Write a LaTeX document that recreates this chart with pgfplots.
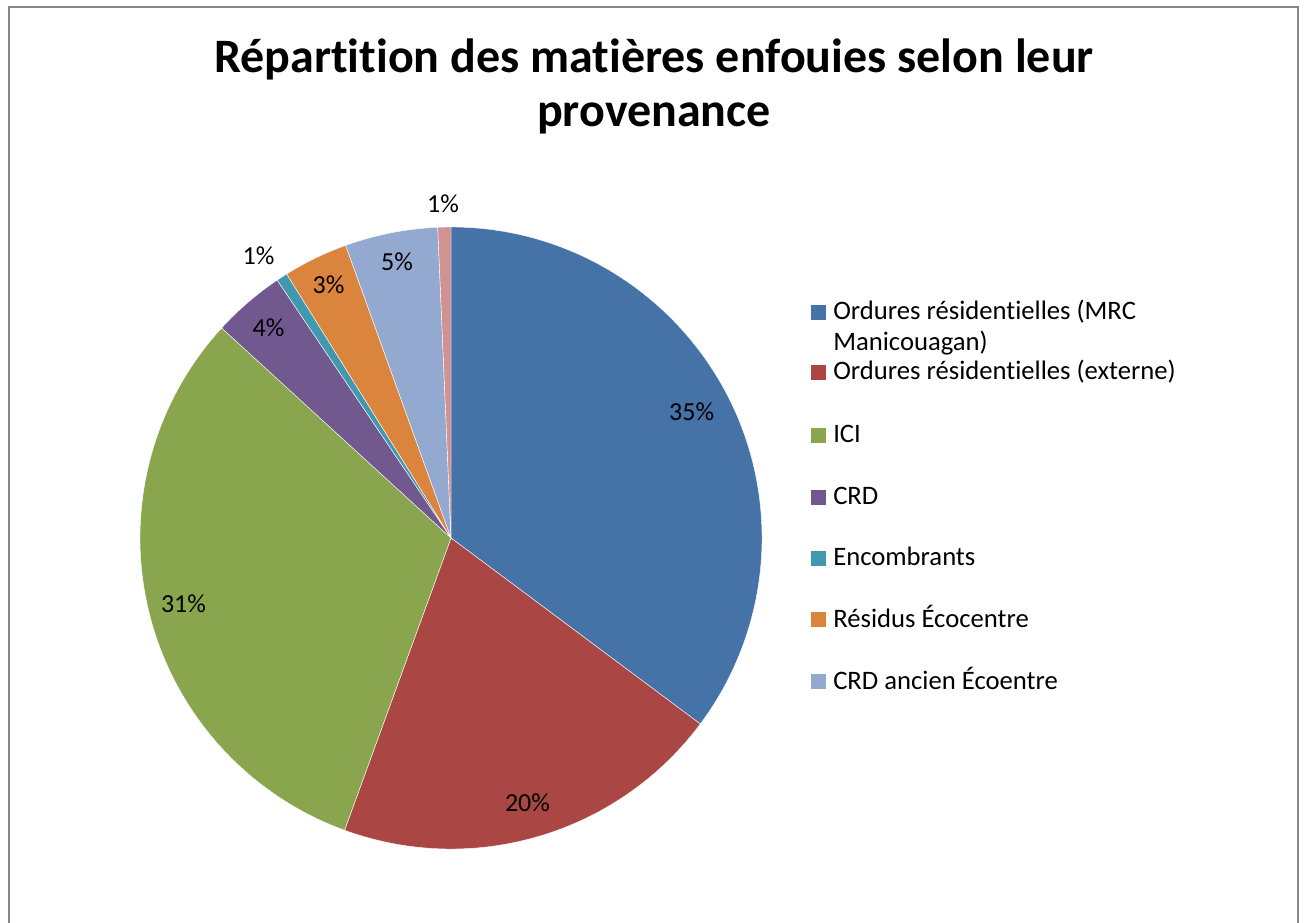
\documentclass[border=0pt]{standalone}
\usepackage{fontspec}
\setmainfont{Carlito}[Ligatures=NoCommon]
\usepackage{pgfplots}
\usepackage{pgfplotstable}
\pgfplotsset{compat=1.18}

\definecolor{c0}{HTML}{4572A7}
\definecolor{c1}{HTML}{AA4643}
\definecolor{c2}{HTML}{89A54E}
\definecolor{c3}{HTML}{71588F}
\definecolor{c4}{HTML}{4198AF}
\definecolor{c5}{HTML}{DB843D}
\definecolor{c6}{HTML}{93A9CF}
\definecolor{c7}{HTML}{D19392}
\definecolor{frame}{HTML}{868686}

% share (%) and label position (px, y from bottom)
\pgfplotstableread{
value lx    ly
35.2  691.7 501
20.36 527.5 111
31.24 183.5 310
3.76  268.5 585.3
0.58  258.5 657
3.36  328.5 628
4.82  397   651.3
0.68  443   709.3
}\piedata

\begin{document}
\begin{tikzpicture}
% cumulative angles, clockwise from 12 o'clock
\gdef\cum{0}%
\pgfplotstableforeachcolumnelement{value}\of\piedata\as\v{%
  \pgfmathsetmacro\a{90-3.6*\cum}%
  \pgfmathsetmacro\cumnew{\cum+\v}%
  \pgfmathsetmacro\b{90-3.6*\cumnew}%
  \expandafter\xdef\csname sa\pgfplotstablerow\endcsname{\a}%
  \expandafter\xdef\csname sb\pgfplotstablerow\endcsname{\b}%
  \pgfmathtruncatemacro\pct{round(\v)}%
  \expandafter\xdef\csname pl\pgfplotstablerow\endcsname{\pct}%
  \xdef\cum{\cumnew}%
}%
\pgfplotstableforeachcolumnelement{lx}\of\piedata\as\v{%
  \expandafter\xdef\csname lx\pgfplotstablerow\endcsname{\v}}%
\pgfplotstableforeachcolumnelement{ly}\of\piedata\as\v{%
  \expandafter\xdef\csname ly\pgfplotstablerow\endcsname{\v}}%
\begin{axis}[
    scale only axis, width=979.5pt, height=691.5pt,
    xmin=0, xmax=1306, ymin=0, ymax=922,
    hide axis, clip=false,
]
\pgfplotsinvokeforeach{0,...,7}{
  \fill[c#1, draw=white, line width=0.3pt] (axis cs:451,384) -- ++(\csname sa#1\endcsname:233.25pt)
    arc[start angle=\csname sa#1\endcsname, end angle=\csname sb#1\endcsname, radius=233.25pt] -- cycle;
}
\pgfplotsinvokeforeach{0,...,7}{
  \node[anchor=base, inner sep=0pt, font=\fontsize{19.5}{23}\selectfont]
    at (axis cs:\csname lx#1\endcsname,\csname ly#1\endcsname) {\csname pl#1\endcsname\%};
}
% title
\node[anchor=base, inner sep=0pt, font=\fontsize{36}{43}\selectfont\bfseries]
  at (axis cs:654,849) {Répartition des matières enfouies selon leur};
\node[anchor=base, inner sep=0pt, font=\fontsize{36}{43}\selectfont\bfseries]
  at (axis cs:654,795) {provenance};
% legend
\fill[c0] (axis cs:811,602) rectangle (axis cs:826,617);
\fill[c1] (axis cs:811,542) rectangle (axis cs:826,557);
\fill[c2] (axis cs:811,479) rectangle (axis cs:826,494);
\fill[c3] (axis cs:811,417) rectangle (axis cs:826,432);
\fill[c4] (axis cs:811,356) rectangle (axis cs:826,371);
\fill[c5] (axis cs:811,295) rectangle (axis cs:826,310);
\fill[c6] (axis cs:811,233) rectangle (axis cs:826,248);
\begin{scope}[every node/.style={anchor=base west, inner sep=0pt, font=\fontsize{20}{24}\selectfont}]
\node at (axis cs:833,602) {Ordures résidentielles (MRC};
\node at (axis cs:833,571) {Manicouagan)};
\node at (axis cs:833,542) {Ordures résidentielles (externe)};
\node at (axis cs:833,479) {ICI};
\node at (axis cs:833,417) {CRD};
\node at (axis cs:833,356) {Encombrants};
\node at (axis cs:833,295) {Résidus Écocentre};
\node at (axis cs:833,233) {CRD ancien Écoentre};
\end{scope}
% chart area border (bottom edge lies outside the picture)
\draw[frame, line width=1.5pt] (axis cs:8.5,-20) -- (axis cs:8.5,915) -- (axis cs:1297.5,915) -- (axis cs:1297.5,-20);
\end{axis}
\pgfresetboundingbox
\path (0,0) rectangle (979.5pt,691.5pt);
\end{tikzpicture}
\end{document}
